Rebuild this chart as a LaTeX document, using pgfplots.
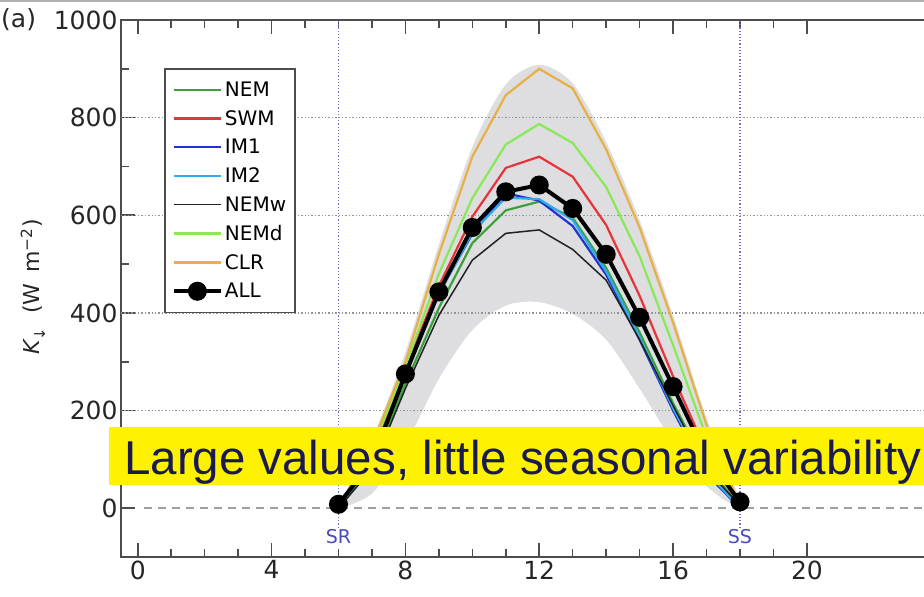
\documentclass[border=0pt]{standalone}
\usepackage{fontspec}
\setmainfont{DejaVu Sans}
\newfontfamily\arialf{Liberation Sans}
\usepackage{pgfplots}
\pgfplotsset{compat=1.18}

\definecolor{cNEM}{HTML}{3CA03C}
\definecolor{cSWM}{HTML}{E8333A}
\definecolor{cIMa}{HTML}{2233CC}
\definecolor{cIMb}{HTML}{33AAEE}
\definecolor{cNEMw}{HTML}{222222}
\definecolor{cNEMd}{HTML}{88E855}
\definecolor{cCLR}{HTML}{E6B045}
\definecolor{band}{HTML}{DEDEE1}
\definecolor{srblue}{HTML}{4A4ABF}
\definecolor{navy}{HTML}{1A1A50}
\definecolor{axgray}{HTML}{4D4D4D}

\begin{document}
\begin{tikzpicture}
\draw[black!30, line width=1.5pt] (0,596pt) -- (924pt,596pt);
% the right side of the frame lies past the page edge, as in the cropped original
\begin{axis}[
  at={(121pt,40pt)}, anchor=south west,
  scale only axis, width=809.7pt, height=537pt,
  xmin=-0.5, xmax=23.7, ymin=-100, ymax=1000,
  axis line style={axgray, line width=1.8pt},
  xtick={0,4,...,20}, minor x tick num=3,
  ytick={0,200,...,1000}, minor y tick num=1,
  xtick pos=both, ytick pos=left, tick align=inside,
  major tick length=14pt, minor tick length=8pt,
  tick style={axgray, line width=1.6pt},
  ticklabel style={font=\fontsize{25}{28}\selectfont, text=black!85},
  /pgf/number format/assume math mode=true,
  /pgf/number format/1000 sep={},
  legend cell align=left,
  legend style={at={(0.0533,0.9106)}, anchor=north west,
    draw=axgray, line width=1.5pt, fill=white,
    font=\fontsize{20}{24}\selectfont,
    inner xsep=7pt, inner ysep=11pt, row sep=8.5pt,
    nodes={inner sep=2pt}},
  /tikz/every even column/.append style={column sep=17pt},
  legend image code/.code={\draw[#1, mark repeat=2, mark phase=2] plot coordinates {(0pt,0pt) (23.5pt,0pt) (47pt,0pt)};},
]
% envelope: upper edge from 6 to 18 h, then lower edge back
\addplot[fill=band, draw=none, smooth, forget plot] coordinates {
 (6,0) (7,140) (8,320) (9,540) (10,740) (11,868) (12,908) (13,870) (14,750) (15,590) (16,395) (17,185) (18,10)
 (17,45) (16,135) (15,245) (14,345) (13,398) (12,422) (11,415) (10,365) (9,265) (8,130) (7,30) (6,0)} -- cycle;

% grid and reference lines
\draw[gray!85, dotted, line width=1.4pt] (axis cs:-0.5,200) -- (axis cs:23.7,200);
\draw[gray!85, dotted, line width=1.4pt] (axis cs:-0.5,400) -- (axis cs:23.7,400);
\draw[gray!85, dotted, line width=1.4pt] (axis cs:-0.5,600) -- (axis cs:23.7,600);
\draw[gray!85, dotted, line width=1.4pt] (axis cs:-0.5,800) -- (axis cs:23.7,800);
\draw[gray!75, line width=2.5pt, dash pattern=on 8pt off 6pt] (axis cs:0.2,0) -- (axis cs:23.7,0);
\draw[srblue!80, dotted, line width=1.2pt] (axis cs:6,-40) -- (axis cs:6,1000);
\draw[srblue!80, dotted, line width=1.2pt] (axis cs:18,-40) -- (axis cs:18,1000);
\node[text=srblue, font=\fontsize{19}{22}\selectfont] at (axis cs:6,-58) {SR};
\node[text=srblue, font=\fontsize{19}{22}\selectfont] at (axis cs:18,-58) {SS};

\addplot[cNEM, line width=2.2pt] coordinates {
 (6,0) (7,85) (8,255) (9,410) (10,543) (11,610) (12,628) (13,595) (14,492) (15,360) (16,215) (17,85) (18,5)};
\addplot[cSWM, line width=2.2pt] coordinates {
 (6,0) (7,110) (8,285) (9,455) (10,597) (11,697) (12,720) (13,679) (14,580) (15,435) (16,270) (17,115) (18,5)};
\addplot[cIMa, line width=2.2pt] coordinates {
 (6,0) (7,100) (8,275) (9,440) (10,562) (11,645) (12,630) (13,578) (14,478) (15,345) (16,200) (17,70) (18,0)};
\addplot[cIMb, line width=2.2pt] coordinates {
 (6,0) (7,100) (8,272) (9,438) (10,565) (11,636) (12,633) (13,590) (14,485) (15,350) (16,205) (17,75) (18,0)};
\addplot[cNEMw, line width=1.5pt] coordinates {
 (6,0) (7,80) (8,245) (9,395) (10,508) (11,563) (12,570) (13,530) (14,467) (15,345) (16,210) (17,80) (18,5)};
\addplot[cNEMd, line width=2.2pt] coordinates {
 (6,0) (7,120) (8,290) (9,480) (10,635) (11,745) (12,787) (13,748) (14,658) (15,516) (16,334) (17,145) (18,5)};
\addplot[cCLR, line width=2.2pt] coordinates {
 (6,0) (7,130) (8,300) (9,520) (10,720) (11,846) (12,900) (13,860) (14,735) (15,575) (16,380) (17,170) (18,5)};
\addplot[black, line width=4pt, mark=*, mark size=7.5pt] coordinates {
 (6,8) (7,95) (8,275) (9,443) (10,575) (11,648) (12,662) (13,614) (14,520) (15,391) (16,249) (17,105) (18,13)};
\legend{NEM,SWM,IM1,IM2,NEMw,NEMd,CLR,ALL}
\end{axis}

\node[anchor=west, inner sep=0pt, font=\fontsize{25}{28}\selectfont, text=black!85] at (1pt,577pt) {(a)};
\node[rotate=90, font=\fontsize{22}{24}\selectfont, text=black!85] at (33pt,310pt)
  {{\itshape K}\raisebox{-0.25em}{\fontsize{15}{15}\selectfont ↓}\hspace{7pt} (W\hspace{4pt} m\textsuperscript{−2})};

\fill[yellow] (109pt,112pt) rectangle (930pt,170pt);
\node[anchor=base west, inner sep=0pt, text=navy, font=\arialf\fontsize{47.5}{50}\selectfont] at (124pt,122pt)
  {Large values, little seasonal variability};
\pgfresetboundingbox
\useasboundingbox (0,0) rectangle (924pt,597pt);
\end{tikzpicture}
\end{document}
